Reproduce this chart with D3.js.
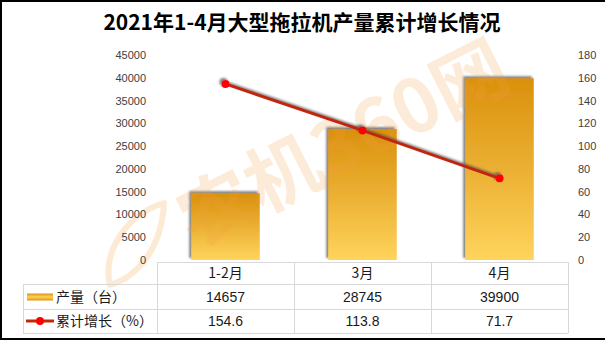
<!DOCTYPE html>
<html><head><meta charset="utf-8">
<script src="https://cdn.jsdelivr.net/npm/d3@7"></script>
<style>
html,body{margin:0;padding:0;background:#fff;}
svg{display:block;}
</style></head>
<body>
<svg id="c" width="605" height="341"></svg>
<script>
const title = "2021年1-4月大型拖拉机产量累计增长情况";
const categories = ["1-2月", "3月", "4月"];
const output = [14657, 28745, 39900];
const growth = [154.6, 113.8, 71.7];
const leftTicks = [0,5000,10000,15000,20000,25000,30000,35000,40000,45000];
const rightTicks = [0,20,40,60,80,100,120,140,160,180];
const seriesNames = ["产量（台）", "累计增长（%）"];
const growthLabels = ["154.6", "113.8", "71.7"];

const svg = d3.select("#c");
const cjk = "'Noto Sans CJK SC','Microsoft YaHei',sans-serif";
const num = "'Liberation Sans','DejaVu Sans',sans-serif";
const defs = svg.append("defs");
const g = defs.append("linearGradient").attr("id","barGrad").attr("x1",0).attr("y1",0).attr("x2",0).attr("y2",1);
g.append("stop").attr("offset","0%").attr("stop-color","#DA900C");
g.append("stop").attr("offset","50%").attr("stop-color","#EBB033");
g.append("stop").attr("offset","100%").attr("stop-color","#FFD45C");
const gl = defs.append("linearGradient").attr("id","legGrad").attr("x1",0).attr("y1",0).attr("x2",0).attr("y2",1);
gl.append("stop").attr("offset","0%").attr("stop-color","#DA940F");
gl.append("stop").attr("offset","50%").attr("stop-color","#FFD35A");
gl.append("stop").attr("offset","100%").attr("stop-color","#DA940F");
const sh = defs.append("filter").attr("id","shadow").attr("x","-20%").attr("y","-20%").attr("width","140%").attr("height","140%");
sh.append("feDropShadow").attr("dx",-2).attr("dy",-2).attr("stdDeviation",1.3).attr("flood-color","#555").attr("flood-opacity",0.75);

// frame
svg.append("rect").attr("x",1).attr("y",1).attr("width",608).attr("height",338)
  .attr("fill","none").attr("stroke","#000").attr("stroke-width",2);

// watermark leaf
const wmLeaf = svg.append("g").attr("opacity",0.22);
wmLeaf.append("path")
  .attr("d","M164,203 C128,214 102,250 110,285 C140,276 162,245 164,203 Z")
  .attr("fill","none").attr("stroke","#F5A040").attr("stroke-width",6).attr("stroke-linejoin","round");

// title
svg.append("text").attr("x",302).attr("y",30).attr("text-anchor","middle")
  .attr("font-family",cjk).attr("font-weight","bold").attr("font-size",21).attr("fill","#000")
  .text(title);

const x = d3.scaleBand().domain(categories).range([157,568]).paddingInner(0.5).paddingOuter(0.25);
const yL = d3.scaleLinear().domain([0,45000]).range([260,55]);
const yR = d3.scaleLinear().domain([0,180]).range([260,55]);

const axL = svg.append("g").attr("transform","translate(146,0)")
  .call(d3.axisLeft(yL).tickValues(leftTicks).tickSize(0).tickPadding(0).tickFormat(d3.format("d")));
const axR = svg.append("g").attr("transform","translate(578,0)")
  .call(d3.axisRight(yR).tickValues(rightTicks).tickSize(0).tickPadding(0).tickFormat(d3.format("d")));
[axL,axR].forEach(a=>{a.select(".domain").remove();
  a.selectAll("text").attr("font-family",num).attr("font-size",11).attr("fill","#404040");});

// bars
svg.append("g").selectAll("rect").data(output).join("rect")
  .attr("x",(d,i)=>x(categories[i])).attr("width",x.bandwidth())
  .attr("y",d=>yL(d)).attr("height",d=>yL(0)-yL(d))
  .attr("fill","url(#barGrad)").attr("filter","url(#shadow)");

// watermark text (over bars, under line)
svg.append("text").attr("transform","translate(340,138) rotate(-27)")
  .attr("text-anchor","middle").attr("dominant-baseline","central")
  .attr("font-family",cjk).attr("font-weight","bold").attr("font-size",74)
  .attr("textLength",360).attr("lengthAdjust","spacingAndGlyphs")
  .attr("fill","#F5A040").attr("opacity",0.2).text("农机360网");

// line
const cx = (d,i)=>x(categories[i])+x.bandwidth()/2;
const lg = svg.append("g").attr("filter","url(#shadow)");
lg.append("path").datum(growth)
  .attr("d",d3.line().x(cx).y(d=>yR(d)))
  .attr("fill","none").attr("stroke","#C02808").attr("stroke-width",3);
lg.selectAll("circle").data(growth).join("circle")
  .attr("cx",cx).attr("cy",d=>yR(d)).attr("r",4).attr("fill","#FF0000");

// table
const step = x.step();
const bounds = categories.map(c=>x(c)+x.bandwidth()/2-step/2).concat([x(categories[2])+x.bandwidth()/2+step/2]);
const rowsY = [262,284,309,333];
const tl = svg.append("g").attr("stroke","#D9D9D9").attr("stroke-width",1);
tl.append("line").attr("x1",bounds[0]).attr("x2",bounds[3]).attr("y1",rowsY[0]+0.5).attr("y2",rowsY[0]+0.5);
[1,2,3].forEach(r=>tl.append("line").attr("x1",23).attr("x2",bounds[3]).attr("y1",rowsY[r]+0.5).attr("y2",rowsY[r]+0.5));
bounds.forEach(b=>tl.append("line").attr("x1",Math.round(b)+0.5).attr("x2",Math.round(b)+0.5).attr("y1",rowsY[0]).attr("y2",rowsY[3]));
tl.append("line").attr("x1",23.5).attr("x2",23.5).attr("y1",rowsY[1]).attr("y2",rowsY[3]);

const tt = svg.append("g").attr("text-anchor","middle").attr("fill","#1a1a1a").attr("font-size",14);
categories.forEach((c,i)=>{
  const xc = x(c)+x.bandwidth()/2;
  tt.append("text").attr("x",xc).attr("y",(rowsY[0]+rowsY[1])/2).attr("dy","0.36em").attr("font-family",cjk).text(c);
  tt.append("text").attr("x",xc).attr("y",(rowsY[1]+rowsY[2])/2).attr("dy","0.36em").attr("font-family",num).text(output[i]);
  tt.append("text").attr("x",xc).attr("y",(rowsY[2]+rowsY[3])/2).attr("dy","0.36em").attr("font-family",num).text(growthLabels[i]);
});
// legend cells
const ly1 = (rowsY[1]+rowsY[2])/2, ly2 = (rowsY[2]+rowsY[3])/2;
svg.append("rect").attr("x",27).attr("y",ly1-3).attr("width",26).attr("height",7).attr("fill","url(#legGrad)");
svg.append("line").attr("x1",26).attr("x2",54).attr("y1",ly2).attr("y2",ly2).attr("stroke","#C02808").attr("stroke-width",3);
svg.append("circle").attr("cx",40).attr("cy",ly2).attr("r",4).attr("fill","#FF0000");
svg.append("text").attr("x",56).attr("y",ly1).attr("dy","0.36em").attr("font-family",cjk).attr("font-size",14).attr("fill","#1a1a1a").text(seriesNames[0]);
svg.append("text").attr("x",56).attr("y",ly2).attr("dy","0.36em").attr("font-family",cjk).attr("font-size",14).attr("fill","#1a1a1a").text(seriesNames[1]);
</script>
</body></html>
